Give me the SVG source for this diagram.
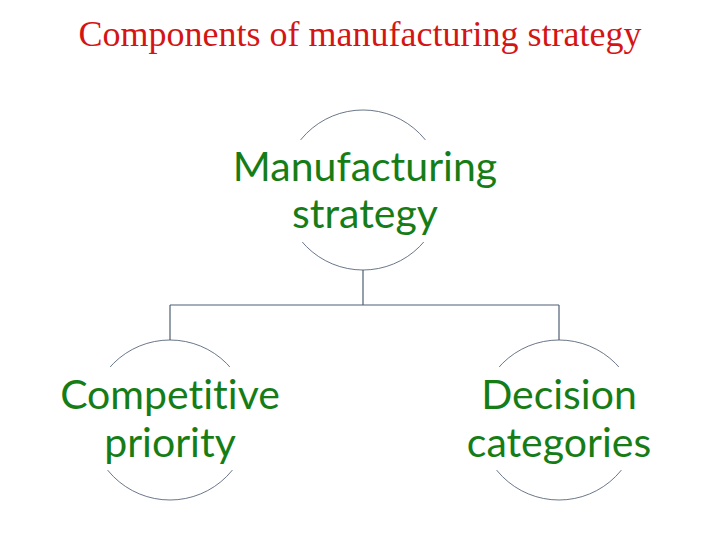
<svg xmlns="http://www.w3.org/2000/svg" width="720" height="540" viewBox="0 0 720 540">
<style>
.title{font-family:"Liberation Serif","Times New Roman",serif;font-size:36px;fill:#d41515;}
.lbl{font-family:Lato,"Open Sans",sans-serif;font-size:41px;fill:#167d16;text-anchor:middle;font-variant-ligatures:none;}
.circ{fill:none;stroke:#44546a;stroke-width:0.8;}
.mask{fill:#ffffff;stroke:none;}
.conn{fill:none;stroke:#4f6074;stroke-width:1.2;}
</style>
<rect width="720" height="540" fill="#ffffff"/>
<text class="title" x="360" y="46" text-anchor="middle">Components of manufacturing strategy</text>
<g id="connectors">
<path class="conn" d="M363,270 V305 M170,305 H559 M170,305 V340 M559,305 V340"/>
</g>
<g id="node-manufacturing-strategy">
<circle class="circ" cx="363" cy="190" r="80"/>
<rect class="mask" x="270" y="140" width="186" height="102"/>
<text class="lbl" x="365" y="181">Manufacturing</text>
<text class="lbl" x="365" y="228">strategy</text>
</g>
<g id="node-competitive-priority">
<circle class="circ" cx="170" cy="420" r="80"/>
<rect class="mask" x="80" y="367" width="180" height="103"/>
<text class="lbl" x="170" y="409">Competitive</text>
<text class="lbl" x="170" y="457">priority</text>
</g>
<g id="node-decision-categories">
<circle class="circ" cx="559" cy="420" r="80"/>
<rect class="mask" x="469" y="367" width="180" height="103"/>
<text class="lbl" x="559" y="409">Decision</text>
<text class="lbl" x="559" y="457">categories</text>
</g>
</svg>
